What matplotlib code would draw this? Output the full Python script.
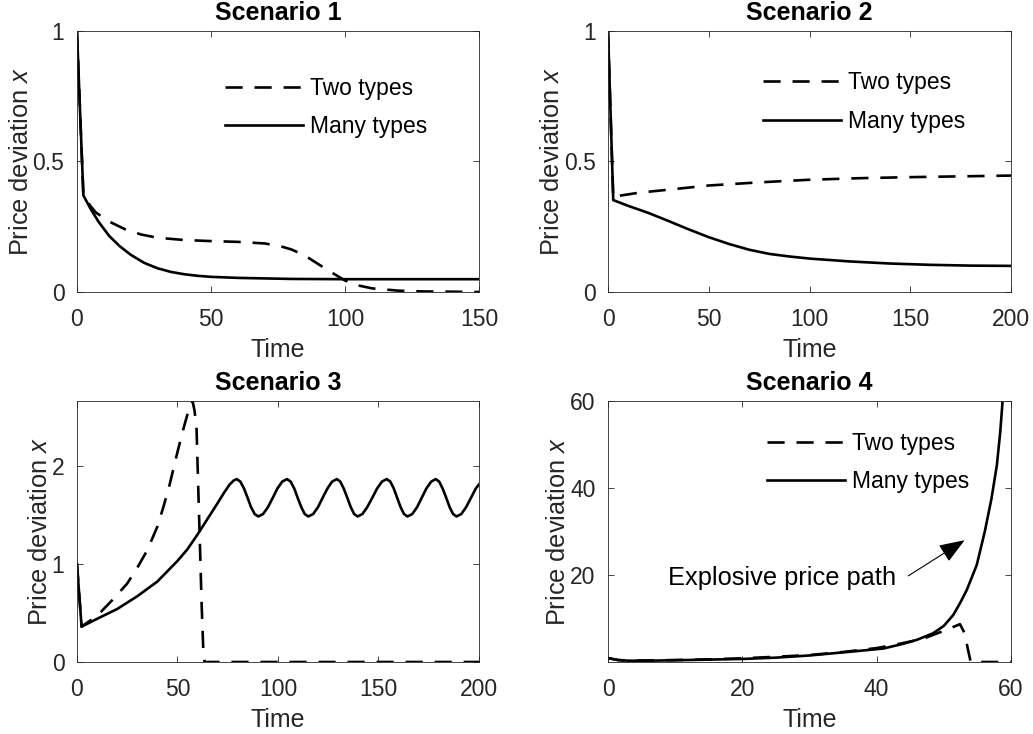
import matplotlib
matplotlib.use("Agg")
import matplotlib.pyplot as plt

plt.rcParams['font.family'] = ['Liberation Sans', 'DejaVu Sans']
plt.rcParams['mathtext.fontset'] = 'custom'
plt.rcParams['mathtext.rm'] = 'Liberation Sans'
plt.rcParams['mathtext.it'] = 'Liberation Sans:italic'

# Scenario 1
s1_t_many = [0, 1.2, 2.4, 5, 8, 12, 16, 20, 25, 30, 35, 40, 45, 50, 60, 70, 80, 100, 120, 150]
s1_y_many = [1.0, 0.68, 0.37, 0.32, 0.27, 0.215, 0.175, 0.143, 0.112, 0.091, 0.077, 0.068, 0.062, 0.058, 0.054, 0.052, 0.05, 0.049, 0.049, 0.049]
s1_t_two = [0, 1.2, 2.4, 5, 7, 12, 18, 24, 30, 40, 50, 60, 70, 76, 80, 85, 90, 95, 100, 105, 110, 120, 130, 150]
s1_y_two = [1.0, 0.68, 0.37, 0.33, 0.305, 0.27, 0.24, 0.22, 0.208, 0.199, 0.195, 0.192, 0.186, 0.175, 0.163, 0.14, 0.107, 0.075, 0.044, 0.025, 0.014, 0.005, 0.002, 0.0]

# Scenario 2
s2_t_many = [0, 1.2, 2.6, 10, 20, 30, 40, 50, 60, 70, 80, 90, 100, 120, 140, 160, 180, 200]
s2_y_many = [1.0, 0.7, 0.352, 0.33, 0.303, 0.272, 0.24, 0.21, 0.184, 0.162, 0.146, 0.136, 0.128, 0.117, 0.109, 0.104, 0.101, 0.1]
s2_t_two = [0, 1.2, 2.6, 5, 15, 30, 50, 75, 100, 125, 150, 175, 200]
s2_y_two = [1.0, 0.7, 0.36, 0.368, 0.38, 0.392, 0.408, 0.42, 0.43, 0.436, 0.44, 0.443, 0.446]

# Scenario 3
s3_t_many = [0, 2.3, 10, 20, 30, 40, 50, 55, 60, 65, 70, 73, 76, 78, 79.5,
             81.3, 83.1, 84.9, 86.6, 88.4, 90.2, 92.6, 95.0, 97.4, 99.7, 102.1, 104.5,
             106.3, 108.1, 109.8, 111.6, 113.3, 115.1, 117.5, 119.9, 122.2, 124.6, 126.9, 129.3,
             131.0, 132.7, 134.5, 136.2, 137.9, 139.6, 142.0, 144.4, 146.9, 149.3, 151.7, 154.1,
             155.9, 157.6, 159.3, 161.0, 162.7, 164.4, 166.8, 169.2, 171.5, 173.8, 176.2, 178.5,
             180.2, 181.9, 183.7, 185.4, 187.1, 188.8, 191.2, 193.6, 196.0, 198.4, 200.0]
s3_y_many = [1.0, 0.36, 0.44, 0.54, 0.67, 0.82, 1.03, 1.15, 1.3, 1.46, 1.62, 1.72, 1.81, 1.85, 1.864,
             1.838, 1.768, 1.673, 1.578, 1.508, 1.483, 1.508, 1.578, 1.673, 1.768, 1.838, 1.864,
             1.838, 1.768, 1.673, 1.578, 1.508, 1.483, 1.508, 1.578, 1.673, 1.768, 1.838, 1.864,
             1.838, 1.768, 1.673, 1.578, 1.508, 1.483, 1.508, 1.578, 1.673, 1.768, 1.838, 1.864,
             1.838, 1.768, 1.673, 1.578, 1.508, 1.483, 1.508, 1.578, 1.673, 1.768, 1.838, 1.864,
             1.838, 1.768, 1.673, 1.578, 1.508, 1.483, 1.508, 1.578, 1.673, 1.768, 1.81]
s3_t_two = [0, 2.3, 5, 10, 18, 25, 30, 35, 40, 43, 46, 50, 53, 56, 57.5, 58.5, 59.5, 60.3, 61.2, 62, 62.9, 63.5, 200]
s3_y_two = [1.0, 0.36, 0.4, 0.47, 0.64, 0.8, 0.96, 1.14, 1.38, 1.58, 1.8, 2.14, 2.38, 2.6, 2.66, 2.56, 2.37, 1.8, 1.18, 0.6, 0.09, 0.0, 0.0]

# Scenario 4
s4_t_many = [0, 1.5, 3, 6, 10, 15, 20, 25, 30, 33.5, 37, 41, 44, 46, 48.4, 50, 51.4, 52.4, 53.4, 54.9, 56.1, 57.1, 57.9, 58.4, 58.8]
s4_y_many = [0.9, 0.45, 0.3, 0.3, 0.4, 0.55, 0.7, 1.0, 1.5, 2.0, 2.5, 3.1, 4.2, 5.1, 6.6, 8.3, 10.8, 13.5, 16.5, 22.3, 30.0, 37.6, 45.3, 52.9, 61.0]
s4_t_two = [0, 1.5, 3, 10, 15, 20, 25, 30, 35, 40, 42.5, 45, 47, 50.4, 52.4, 53.1, 53.6, 54, 60]
s4_y_two = [0.9, 0.45, 0.3, 0.45, 0.6, 0.85, 1.2, 1.6, 2.3, 3.2, 3.9, 4.7, 5.4, 7.4, 8.7, 6.6, 2.8, 0.0, 0.0]

titles = ['Scenario 1', 'Scenario 2', 'Scenario 3', 'Scenario 4']
labels = ['Two types', 'Many types']

gray = '#262626'
fig = plt.figure(figsize=(10.33, 7.34), dpi=100)
positions = [[0.0745, 0.6022, 0.3892, 0.3556], [0.5886, 0.6022, 0.3901, 0.3556],
             [0.0745, 0.0981, 0.3892, 0.3556], [0.5886, 0.0981, 0.3901, 0.3556]]
axes = [fig.add_axes(p) for p in positions]

data = [(s1_t_two, s1_y_two, s1_t_many, s1_y_many),
        (s2_t_two, s2_y_two, s2_t_many, s2_y_many),
        (s3_t_two, s3_y_two, s3_t_many, s3_y_many),
        (s4_t_two, s4_y_two, s4_t_many, s4_y_many)]

for ax, (t2, y2, tm, ym), title in zip(axes, data, titles):
    ax.plot(t2, y2, color='black', lw=1.9, dashes=(6.5, 4.5), label=labels[0])
    ax.plot(tm, ym, color='black', lw=1.9, label=labels[1])
    ax.set_title(title, fontsize=18, fontweight='bold', pad=8)
    ax.set_xlabel('Time', fontsize=18, color=gray, labelpad=5)
    ax.set_ylabel('Price deviation $x$', fontsize=18.3, color=gray, labelpad=0)
    ax.tick_params(direction='in', length=4, width=0.6, top=True, right=True,
                   colors=gray, labelsize=16.5)
    ax.tick_params(axis='x', pad=11.5)
    ax.tick_params(axis='y', pad=9)
    for sp in ax.spines.values():
        sp.set_color(gray)
        sp.set_linewidth(0.6)

axes[0].set_xlim(0, 150)
axes[0].set_ylim(0, 1)
axes[0].set_xticks([0, 50, 100, 150])
axes[0].set_yticks([0, 0.5, 1])
axes[0].set_yticklabels(['0', '0.5', '1'])

axes[1].set_xlim(0, 200)
axes[1].set_ylim(0, 1)
axes[1].set_xticks([0, 50, 100, 150, 200])
axes[1].set_yticks([0, 0.5, 1])
axes[1].set_yticklabels(['0', '0.5', '1'])

axes[2].set_xlim(0, 200)
axes[2].set_ylim(0, 2.66)
axes[2].set_xticks([0, 50, 100, 150, 200])
axes[2].set_yticks([0, 1, 2])

axes[3].set_xlim(0, 60)
axes[3].set_ylim(0, 60)
axes[3].set_xticks([0, 20, 40, 60])
axes[3].set_yticks([20, 40, 60])

legend_pos = {0: (0.368, 0.706), 1: (0.385, 0.728), 3: (0.395, 0.764)}
for i, (x, y) in legend_pos.items():
    axes[i].legend(loc='center left', bbox_to_anchor=(x, y), frameon=False,
                   fontsize=16.5, handlelength=3.4, handletextpad=0.3,
                   labelspacing=0.67, borderpad=0, borderaxespad=0)

axes[3].text(8.9, 19.3, 'Explosive price path', fontsize=18.3, va='center', ha='left')
axes[3].annotate('', xy=(53.1, 28), xytext=(44.7, 19.8),
                 arrowprops=dict(arrowstyle='-|>,head_length=0.8,head_width=0.3',
                                 mutation_scale=20, color='black', lw=0.8,
                                 shrinkA=0, shrinkB=0))

fig.savefig('out.png', dpi=100)
